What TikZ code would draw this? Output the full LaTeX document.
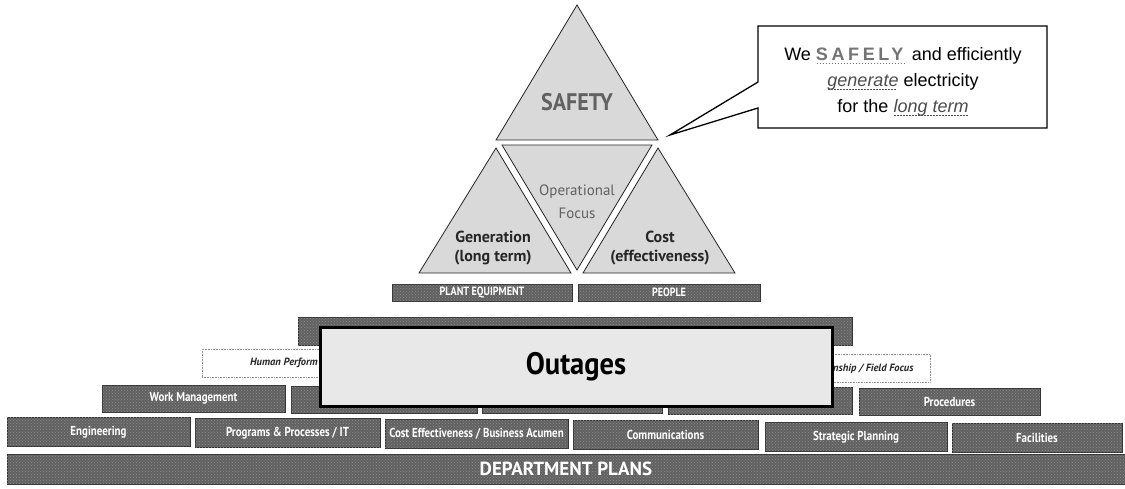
\documentclass[tikz,border=0pt]{standalone}
\usepackage{fontspec}
\setmainfont{Liberation Sans}
\newfontfamily\ptsans{PT Sans}
\usetikzlibrary{patterns}
\newcommand\cond[1]{\scalebox{0.84}[1]{#1}}
\newsavebox\dulbox
\newcommand\dul[1]{\sbox\dulbox{#1}\rlap{\raisebox{-3pt}{\hbox to \wd\dulbox{\leaders\hbox to 3pt{\hss\rule{1.8pt}{0.7pt}\hss}\hfill}}}\usebox\dulbox}
\tikzset{
  tri/.style={draw=black!85, line width=0.8pt, fill=black!15},
  trilabel/.style={font=\ptsans\bfseries\fontsize{16}{18}\selectfont, text=black!85, inner sep=0pt},
  darkbar/.style={draw=black!80, line width=0.5pt, fill=black!62,
    postaction={pattern=crosshatch dots, pattern color=white!55!black},
    inner sep=0pt, text=white, font=\ptsans\bfseries\fontsize{13}{14}\selectfont},
  lightbar/.style={draw=black!45, densely dotted, line width=0.6pt, fill=white, inner sep=0pt},
  lighttext/.style={font=\ptsans\bfseries\itshape\fontsize{10.5}{12}\selectfont, text=black!85, inner sep=1pt},
  bigbox/.style={draw=black, line width=3pt, fill=black!9, inner sep=0pt,
    font=\ptsans\bfseries\fontsize{31}{32}\selectfont},
  callbox/.style={draw=black, line width=1.3pt, fill=white},
  calltext/.style={align=center, font=\fontsize{18}{26}\selectfont, inner sep=0pt}
}
\begin{document}
\begin{tikzpicture}[x=1pt,y=-1pt]
\useasboundingbox (0,0) rectangle (1125,488);

% --- pyramid of triangles
\draw[tri] (577,5) -- (658,140) -- (496,140) -- cycle;
\draw[tri] (502,145) -- (652,145) -- (577,270) -- cycle;
\draw[tri] (496,148) -- (571,273) -- (419,273) -- cycle;
\draw[tri] (658,148) -- (735,273) -- (583,273) -- cycle;

\node[font=\ptsans\bfseries\fontsize{24}{25}\selectfont, text=black!62, inner sep=0pt] (safety) at (577,102) {\scalebox{0.92}[1]{SAFETY}};
\node[font=\ptsans\fontsize{15}{17}\selectfont, text=black!62, inner sep=0pt] (oper) at (577,192) {Operational};
\node[font=\ptsans\fontsize{15}{17}\selectfont, text=black!62, inner sep=0pt] (focus) at (577,213) {Focus};
\node[trilabel] (gen) at (493,237) {Generation};
\node[trilabel] (genlt) at (493,258) {(long term)};
\node[trilabel] (cost) at (660,237) {Cost};
\node[trilabel] (costeff) at (660,258) {(effectiveness)};

% --- callout
\coordinate (tip) at (670,135);
\draw[callbox] (758,26) -- (1047,26) -- (1047,128) -- (758,128) -- (758,108) -- (tip) -- (758,82) -- cycle;
\node[calltext] (motto) at (903,82) {We \textcolor{black!55}{\dul{\textbf{\addfontfeature{LetterSpace=20}SAFELY}}} and efficiently\\
\textcolor{black!70}{\dul{\textit{generate}}} electricity\\
for the \textcolor{black!70}{\dul{\textit{long term}}}};

% --- row 1
\node[darkbar, minimum width=180pt, minimum height=17pt, font=\ptsans\bfseries\fontsize{12}{13}\selectfont] (plant) at (482,292.5) {\cond{PLANT EQUIPMENT}};
\node[darkbar, minimum width=182pt, minimum height=17pt, font=\ptsans\bfseries\fontsize{12}{13}\selectfont] (people) at (669,292.5) {\cond{PEOPLE}};

% --- row 2 (mostly hidden)
\node[darkbar, minimum width=554pt, minimum height=28pt] (row2) at (575,331) {};

% --- row 3
\node[lightbar, minimum width=198pt, minimum height=28pt] (hp) at (301,363) {};
\node[lightbar, minimum width=170pt, minimum height=28pt] (ff) at (845,368) {};
\node[lighttext, anchor=east] (hptext) at (319,363) {Human Perform};
\node[lighttext, anchor=west] (fftext) at (832,369) {nship / Field Focus};

% --- row 4
\node[darkbar, minimum width=183pt, minimum height=27pt] (wm) at (193.5,398.5) {\cond{Work Management}};
\node[darkbar, minimum width=186pt, minimum height=27pt] (h1) at (384,399.5) {};
\node[darkbar, minimum width=180pt, minimum height=27pt] (h2) at (572,400) {};
\node[darkbar, minimum width=184pt, minimum height=27pt] (h3) at (760,401) {};
\node[darkbar, minimum width=181pt, minimum height=27pt] (proc) at (949.5,402) {\cond{Procedures}};

% --- row 5
\node[darkbar, minimum width=183pt, minimum height=29pt] (eng) at (98.5,432) {\cond{Engineering}};
\node[darkbar, minimum width=185pt, minimum height=29pt] (prog) at (287.5,433) {\cond{Programs \& Processes / IT}};
\node[darkbar, minimum width=183pt, minimum height=29pt] (ce) at (476.5,434) {\cond{Cost Effectiveness / Business Acumen}};
\node[darkbar, minimum width=185pt, minimum height=29pt] (comm) at (665.5,435) {\cond{Communications}};
\node[darkbar, minimum width=182pt, minimum height=29pt] (sp) at (856,437) {\cond{Strategic Planning}};
\node[darkbar, minimum width=170pt, minimum height=29pt] (fac) at (1037,438) {\cond{Facilities}};

% --- department plans
\node[darkbar, minimum width=1118pt, minimum height=30pt, font=\ptsans\bfseries\fontsize{19}{20}\selectfont] (dept) at (566,469) {DEPARTMENT PLANS};

% --- outages box on top
\node[bigbox, minimum width=512pt, minimum height=79pt] (outages) at (576,366.5) {\scalebox{0.92}[1]{Outages}};
\end{tikzpicture}
\end{document}
